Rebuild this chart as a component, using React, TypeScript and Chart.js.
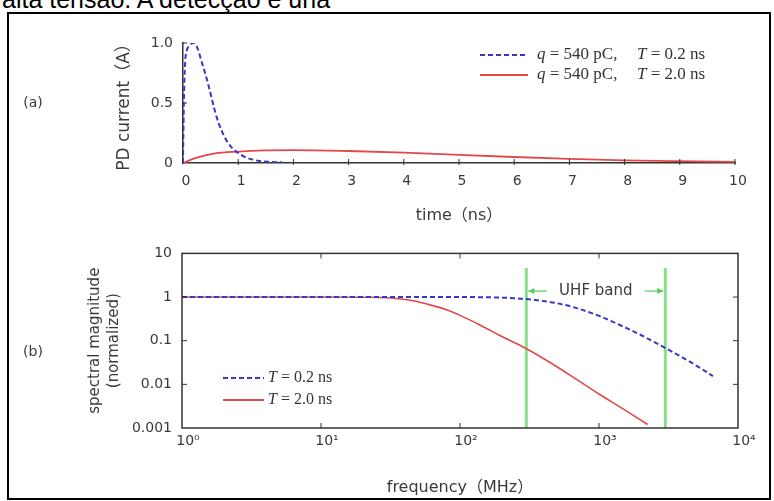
import React, { useEffect, useRef } from "react";
import { Chart, registerables } from "chart.js";

Chart.register(...registerables);

// ---------- data: panel (a) PD current vs time ----------
const timeBlue = [0, 0.01, 0.02, 0.04, 0.07, 0.1, 0.15, 0.2, 0.26, 0.34, 0.4, 0.46, 0.52, 0.58, 0.64, 0.7, 0.76, 0.82, 0.9, 0.98, 1.05, 1.13, 1.25, 1.37, 1.55, 1.8];
const currentBlue = [0, 0.35, 0.6, 0.85, 0.94, 0.97, 0.995, 1.0, 0.96, 0.84, 0.75, 0.65, 0.54, 0.43, 0.34, 0.27, 0.21, 0.165, 0.12, 0.09, 0.068, 0.048, 0.03, 0.018, 0.01, 0.005];
const timeRed = [0, 0.22, 0.58, 1.0, 1.5, 2.0, 3.0, 4.0, 5.0, 6.0, 7.0, 8.0, 9.0, 10.0];
const currentRed = [0, 0.04, 0.08, 0.095, 0.105, 0.108, 0.1, 0.086, 0.067, 0.05, 0.035, 0.022, 0.015, 0.01];
const timeTicks = [0, 1, 2, 3, 4, 5, 6, 7, 8, 9, 10];
const currentTicks = [0, 0.5, 1.0];
const currentTickLabels = ["0", "0.5", "1.0"];
const chargeLabels = ["540", "540"]; // pC
const riseTimeLabels = ["0.2", "2.0"]; // ns

// ---------- data: panel (b) spectral magnitude vs frequency ----------
const freqBlue = [1, 10, 100, 150, 200, 300, 500, 700, 1000, 1500, 2000, 3000, 4000, 5000, 6600];
const magBlue = [1, 1, 1, 0.99, 0.97, 0.9, 0.72, 0.55, 0.37, 0.21, 0.135, 0.068, 0.041, 0.027, 0.0155];
const freqRed = [1, 10, 20, 30, 46, 60, 80, 100, 139, 200, 294, 469, 730, 1000, 1500, 2240];
const magRed = [1, 1, 0.99, 0.96, 0.82, 0.67, 0.51, 0.38, 0.23, 0.125, 0.068, 0.0285, 0.0115, 0.006, 0.0027, 0.0012];
const freqTicks = [1, 10, 100, 1000, 10000];
const freqTickLabels = ["10⁰", "10¹", "10²", "10³", "10⁴"];
const magTicks = [0.001, 0.01, 0.1, 1, 10];
const magTickLabels = ["0.001", "0.01", "0.1", "1", "10"];
const uhfBand = [300, 3000]; // MHz
const uhfLineTop = 4.6;
const uhfArrowLevel = 1.37;

const BLUE = "#3737c8";
const RED = "#e44848";
const GREEN = "#88e088";
const AXIS = "#333333";
const TEXT = "#3a3a3a";
const SANS = "'DejaVu Sans', 'Noto Sans CJK SC', sans-serif";
const SERIF = "'Liberation Serif', 'DejaVu Serif', serif";

function pts(xs: number[], ys: number[]) {
  return xs.map((x, i) => ({ x, y: ys[i] }));
}

function seg(ctx: CanvasRenderingContext2D, x1: number, y1: number, x2: number, y2: number) {
  ctx.beginPath();
  ctx.moveTo(x1, y1);
  ctx.lineTo(x2, y2);
  ctx.stroke();
}

function drawRich(ctx: CanvasRenderingContext2D, x: number, y: number, parts: [string, boolean][], size: number) {
  let cx = x;
  ctx.textAlign = "left";
  ctx.textBaseline = "middle";
  for (const [t, it] of parts) {
    ctx.font = `${it ? "italic " : ""}${size}px ${SERIF}`;
    ctx.fillText(t, cx, y);
    cx += ctx.measureText(t).width;
  }
}

const decorA = {
  id: "decorA",
  afterDraw(chart: any) {
    const { ctx, chartArea: a, scales } = chart;
    const xs = scales.x;
    const ys = scales.y;
    ctx.save();
    ctx.strokeStyle = AXIS;
    ctx.lineWidth = 1;
    for (const v of timeTicks.slice(1)) {
      const px = xs.getPixelForValue(v);
      seg(ctx, px, a.bottom + 2, px, a.bottom - 4);
    }
    for (const v of currentTicks.slice(1)) {
      const py = ys.getPixelForValue(v);
      seg(ctx, a.left, py, a.left + 4, py);
    }
    const colors = [BLUE, RED];
    const dashes = [[5, 3], []];
    chargeLabels.forEach((q, i) => {
      const y = 55 + i * 20;
      ctx.strokeStyle = colors[i];
      ctx.lineWidth = 2;
      ctx.setLineDash(dashes[i]);
      seg(ctx, 480, y, 528, y);
      ctx.setLineDash([]);
      ctx.fillStyle = "#333";
      drawRich(ctx, 537, y, [["q", true], [" = " + q + " pC,", false]], 17);
      drawRich(ctx, 637, y, [["T", true], [" = " + riseTimeLabels[i] + " ns", false]], 17);
    });
    ctx.fillStyle = TEXT;
    ctx.font = `14px ${SANS}`;
    ctx.textAlign = "center";
    ctx.textBaseline = "middle";
    ctx.fillText("(a)", 33, 103);
    ctx.restore();
  },
};

const decorB = {
  id: "decorB",
  afterDraw(chart: any) {
    const { ctx, chartArea: a, scales } = chart;
    const xs = scales.x;
    const ys = scales.y;
    ctx.save();
    ctx.strokeStyle = AXIS;
    ctx.lineWidth = 1.5;
    ctx.strokeRect(a.left, a.top, a.right - a.left, a.bottom - a.top);
    ctx.lineWidth = 1;
    for (const v of freqTicks.slice(1, -1)) {
      const px = xs.getPixelForValue(v);
      seg(ctx, px, a.bottom, px, a.bottom - 5);
      seg(ctx, px, a.top, px, a.top + 5);
    }
    for (const v of magTicks.slice(1, -1)) {
      const py = ys.getPixelForValue(v);
      seg(ctx, a.left, py, a.left + 5, py);
      seg(ctx, a.right, py, a.right - 5, py);
    }
    // UHF band arrows and label
    const xl = xs.getPixelForValue(uhfBand[0]);
    const xr = xs.getPixelForValue(uhfBand[1]);
    const ya = ys.getPixelForValue(uhfArrowLevel);
    const cx = (xl + xr) / 2;
    ctx.font = `15px ${SANS}`;
    const tw = ctx.measureText("UHF band").width;
    ctx.fillStyle = TEXT;
    ctx.textAlign = "center";
    ctx.textBaseline = "middle";
    ctx.fillText("UHF band", cx, ya);
    ctx.strokeStyle = "#5cc85c";
    ctx.fillStyle = "#5cc85c";
    ctx.lineWidth = 1.2;
    const gap = 12;
    seg(ctx, xl + 2, ya, cx - tw / 2 - gap, ya);
    seg(ctx, cx + tw / 2 + gap, ya, xr - 2, ya);
    const head = (tip: number, dir: number) => {
      ctx.beginPath();
      ctx.moveTo(tip, ya);
      ctx.lineTo(tip + dir * 6, ya - 3);
      ctx.lineTo(tip + dir * 6, ya + 3);
      ctx.closePath();
      ctx.fill();
    };
    head(xl + 2, 1);
    head(xr - 2, -1);
    // legend
    const colors = [BLUE, RED];
    const dashes = [[5, 3], []];
    riseTimeLabels.forEach((t, i) => {
      const y = 143 + i * 22;
      ctx.strokeStyle = colors[i];
      ctx.lineWidth = 2;
      ctx.setLineDash(dashes[i]);
      seg(ctx, 223, y, 264, y);
      ctx.setLineDash([]);
      ctx.fillStyle = "#333";
      drawRich(ctx, 268, y, [["T", true], [" = " + t + " ns", false]], 16);
    });
    ctx.fillStyle = TEXT;
    ctx.font = `14px ${SANS}`;
    ctx.textAlign = "center";
    ctx.textBaseline = "middle";
    ctx.fillText("(b)", 33, 117);
    ctx.restore();
  },
};

export default function App() {
  const refA = useRef<HTMLCanvasElement>(null);
  const refB = useRef<HTMLCanvasElement>(null);

  useEffect(() => {
    const tickFont = { family: SANS, size: 14 };
    const titleFont = { family: SANS, size: 16 };

    const chartA = new Chart(refA.current as HTMLCanvasElement, {
      type: "line",
      data: {
        datasets: [
          {
            data: pts(timeBlue, currentBlue),
            borderColor: BLUE,
            borderWidth: 2,
            borderDash: [5, 3],
            pointRadius: 0,
            cubicInterpolationMode: "monotone",
            order: 0,
          },
          {
            data: pts(timeRed, currentRed),
            borderColor: RED,
            borderWidth: 1.8,
            pointRadius: 0,
            cubicInterpolationMode: "monotone",
            order: 1,
          },
        ],
      },
      options: {
        responsive: false,
        animation: false,
        devicePixelRatio: 1,
        layout: { padding: { left: 114, right: 39, top: 43, bottom: 10 } },
        plugins: { legend: { display: false }, tooltip: { enabled: false } },
        scales: {
          x: {
            type: "linear",
            min: 0,
            max: 10,
            afterBuildTicks: (s: any) => {
              s.ticks = timeTicks.map((v) => ({ value: v }));
            },
            afterFit: (s: any) => {
              s.height = 62;
            },
            ticks: { padding: 10, labelOffset: 3, color: TEXT, font: tickFont, callback: (v: any) => String(v) },
            grid: { display: false, drawTicks: false },
            border: { display: true, color: AXIS, width: 1.5 },
            title: { display: true, text: "time（ns）", color: TEXT, font: titleFont, padding: 0 },
          },
          y: {
            type: "linear",
            min: 0,
            max: 1,
            afterBuildTicks: (s: any) => {
              s.ticks = currentTicks.map((v) => ({ value: v }));
            },
            afterFit: (s: any) => {
              s.width = 69;
            },
            ticks: { padding: 10, color: TEXT, font: tickFont, callback: (_v: any, i: number) => currentTickLabels[i] },
            grid: { display: false, drawTicks: false },
            border: { display: true, color: AXIS, width: 1.5 },
            title: { display: true, text: "PD current（A）", color: TEXT, font: { family: SANS, size: 17 }, padding: 0 },
          },
        },
      },
      plugins: [decorA],
    } as any);

    const chartB = new Chart(refB.current as HTMLCanvasElement, {
      type: "line",
      data: {
        datasets: [
          {
            data: pts(freqBlue, magBlue),
            borderColor: BLUE,
            borderWidth: 2,
            borderDash: [5, 3],
            pointRadius: 0,
            cubicInterpolationMode: "monotone",
            order: 0,
          },
          {
            data: pts(freqRed, magRed),
            borderColor: RED,
            borderWidth: 1.6,
            pointRadius: 0,
            cubicInterpolationMode: "monotone",
            order: 1,
          },
          {
            data: [
              { x: uhfBand[0], y: magTicks[0] },
              { x: uhfBand[0], y: uhfLineTop },
            ],
            borderColor: GREEN,
            borderWidth: 3,
            pointRadius: 0,
            order: 2,
          },
          {
            data: [
              { x: uhfBand[1], y: magTicks[0] },
              { x: uhfBand[1], y: uhfLineTop },
            ],
            borderColor: GREEN,
            borderWidth: 3,
            pointRadius: 0,
            order: 2,
          },
        ],
      },
      options: {
        responsive: false,
        animation: false,
        devicePixelRatio: 1,
        layout: { padding: { left: 85, right: 36, top: 18, bottom: 4 } },
        plugins: { legend: { display: false }, tooltip: { enabled: false } },
        scales: {
          x: {
            type: "logarithmic",
            min: 1,
            max: 10000,
            afterBuildTicks: (s: any) => {
              s.ticks = freqTicks.map((v) => ({ value: v }));
            },
            afterFit: (s: any) => {
              s.height = 69;
            },
            ticks: { padding: 5, labelOffset: 6, color: TEXT, font: tickFont, callback: (_v: any, i: number) => freqTickLabels[i] },
            grid: { display: false, drawTicks: false },
            border: { display: false },
            title: { display: true, text: "frequency（MHz）", color: TEXT, font: titleFont, padding: 0 },
          },
          y: {
            type: "logarithmic",
            min: 0.001,
            max: 10,
            afterBuildTicks: (s: any) => {
              s.ticks = magTicks.map((v) => ({ value: v }));
            },
            afterFit: (s: any) => {
              s.width = 97;
            },
            ticks: { padding: 10, color: TEXT, font: tickFont, callback: (_v: any, i: number) => magTickLabels[i] },
            grid: { display: false, drawTicks: false },
            border: { display: false },
            title: {
              display: true,
              text: ["spectral magnitude", "(normalized)"],
              color: TEXT,
              font: { family: SANS, size: 15, lineHeight: 1.3 },
              padding: 0,
            },
          },
        },
      },
      plugins: [decorB],
    } as any);

    return () => {
      chartA.destroy();
      chartB.destroy();
    };
  }, []);

  return (
    <div style={{ position: "absolute", left: 0, top: 0, width: 774, height: 501, overflow: "hidden", background: "#fff" }}>
      <div
        style={{
          position: "absolute",
          left: 2,
          top: -13,
          font: "25px 'Liberation Sans', Arial, sans-serif",
          lineHeight: "25px",
          whiteSpace: "nowrap",
          color: "#000",
        }}
      >
        alta tensão. A detecção é una
      </div>
      <div
        style={{
          position: "absolute",
          left: 7,
          top: 12,
          width: 764,
          height: 488,
          border: "2px solid #000",
          boxSizing: "border-box",
        }}
      />
      <canvas ref={refA} width={774} height={235} style={{ position: "absolute", left: 0, top: 0 }} />
      <canvas ref={refB} width={774} height={266} style={{ position: "absolute", left: 0, top: 235 }} />
    </div>
  );
}
